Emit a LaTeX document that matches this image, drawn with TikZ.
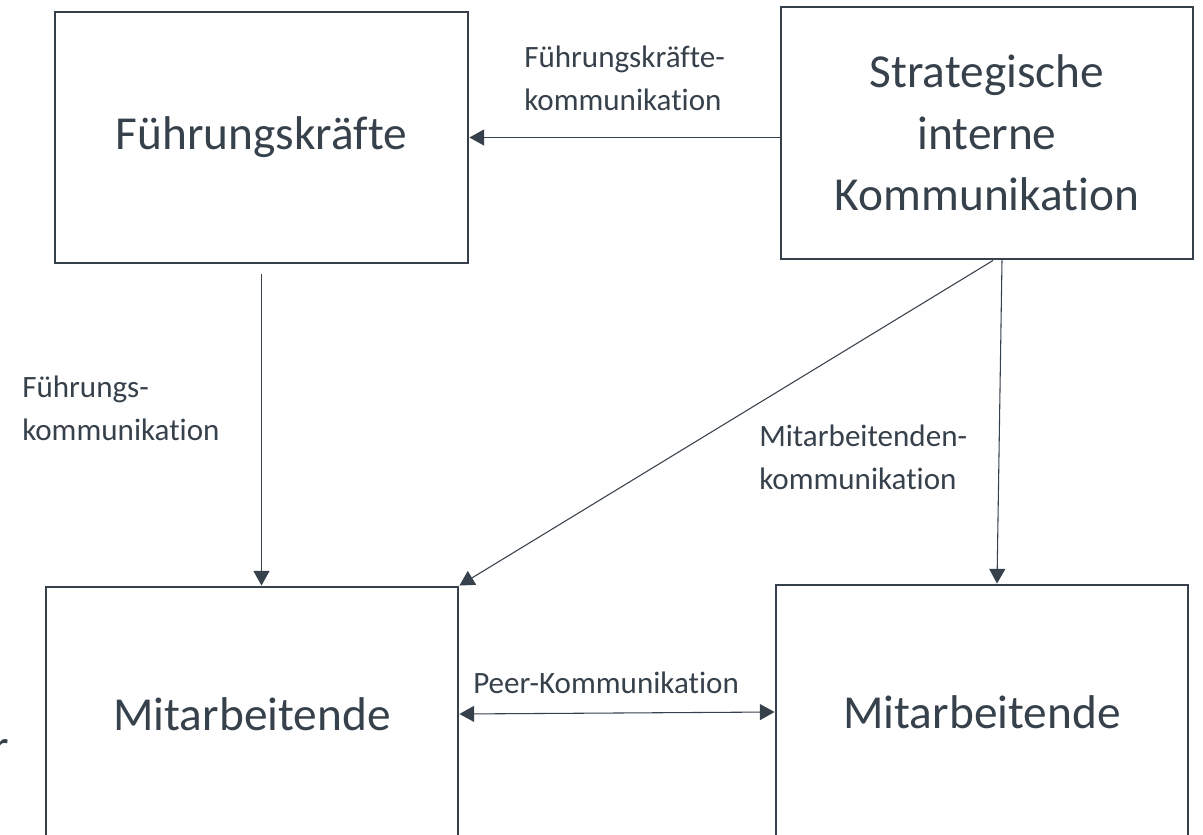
\documentclass[tikz,border=0pt]{standalone}
\usepackage{fontspec}
\setmainfont{Carlito}[RawFeature={-liga;-calt;-clig;-dlig}]
\usetikzlibrary{arrows.meta}
\definecolor{ink}{RGB}{55,65,75}
\tikzset{
  box/.style={draw=ink, line width=2.2pt, minimum width=309pt, minimum height=190.5pt,
    align=center, text=ink, font=\fontsize{35.5}{46}\selectfont, inner sep=0pt},
  lbl/.style={text=ink, font=\fontsize{23.3}{32}\selectfont, align=left, anchor=west, inner sep=0pt},
  arr/.style={draw=ink, line width=0.8pt, -{Triangle[length=11pt,width=12pt]}},
  arrboth/.style={draw=ink, line width=0.8pt, {Triangle[length=11pt,width=12pt]}-{Triangle[length=11pt,width=12pt]}},
}
\begin{document}
\begin{tikzpicture}[x=0.75pt,y=-0.75pt]
\useasboundingbox (0,0) rectangle (1203,835);
% boxes
\node[box, minimum width=309.75pt, minimum height=188.25pt] (fk) at (261.5,137.5) {Führungskräfte};
\node[box, minimum height=189pt] (sik) at (987,133) {Strategische\\interne\\Kommunikation};
\node[box] (ma1) at (252,714) {Mitarbeitende};
\node[box] (ma2) at (982,712) {Mitarbeitende};
% cut-off letter at the left edge
\node[text=ink, font=\fontsize{35.5}{46}\selectfont, inner sep=0pt, anchor=base west] (rest) at (-8,762) {r};
% connectors
\draw[arr] (sik.west |- fk.east) -- (fk.east);
\draw[arr] ([yshift=-7.5pt]fk.south) -- (fk.south |- ma1.north);
\draw[arr] ([xshift=4.5pt]sik.south) -- (ma1.north east);
\draw[arr] ([xshift=11.25pt]sik.south) -- ([xshift=11.25pt]ma2.north);
\draw[arrboth] (ma1.east) -- (ma2.west);
% labels
\node[lbl] (l1) at (524,78) {Führungskräfte-\\kommunikation};
\node[lbl] (l2) at (22,408) {Führungs-\\kommunikation};
\node[lbl] (l3) at (759,457) {Mitarbeitenden-\\kommunikation};
\node[lbl] (l4) at (473,683) {Peer-Kommunikation};
\end{tikzpicture}
\end{document}
